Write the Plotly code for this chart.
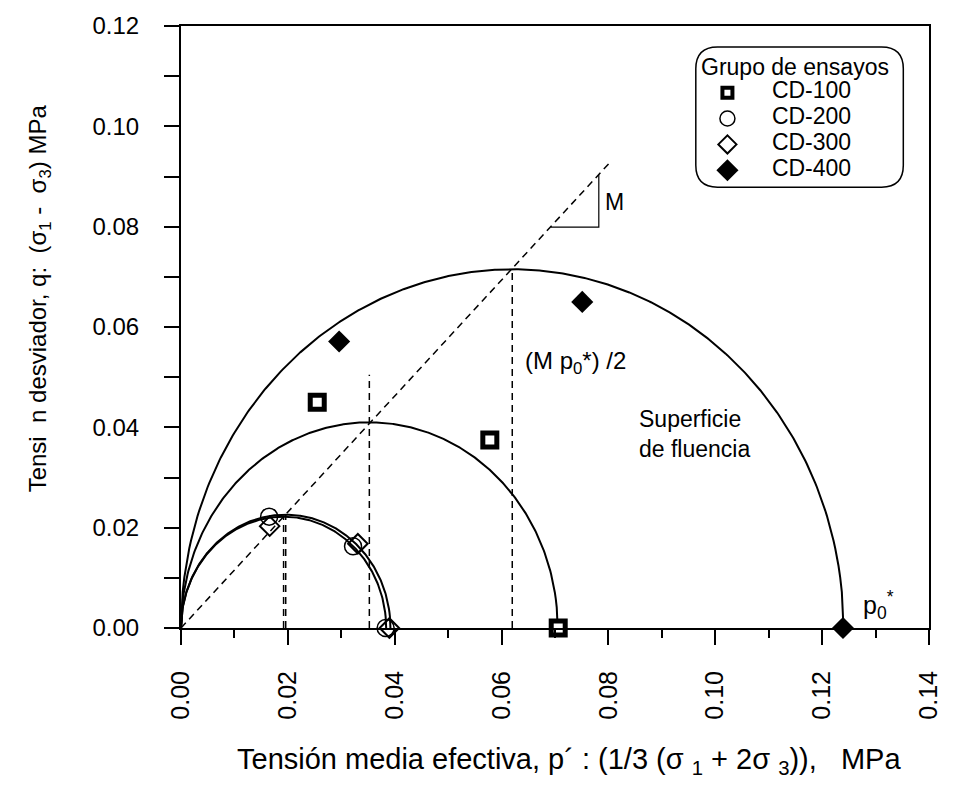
import numpy as np
import plotly.graph_objects as go

# ---------------- data ----------------
series_names = ["CD-100", "CD-200", "CD-300", "CD-400"]

cd100_p = [0.0255, 0.0578, 0.0706]
cd100_q = [0.0450, 0.0375, 0.0]
cd200_p = [0.0165, 0.0322, 0.0383]
cd200_q = [0.0222, 0.0163, 0.0]
cd300_p = [0.0166, 0.0331, 0.0390]
cd300_q = [0.0203, 0.0168, 0.0]
cd400_p = [0.0296, 0.0751, 0.1239]
cd400_q = [0.0571, 0.0650, 0.0]

# yield surfaces (ellipses from 0 to p0*, peak q at p0*/2)
yield_p0 = [0.0705, 0.0384, 0.0392, 0.1240]
yield_qmax = [0.0410, 0.0222, 0.0226, 0.0715]
# height of the dashed vertical at p0*/2
yield_dash_top = [0.0505, 0.0222, 0.0226, 0.0715]

# critical state line q = M p
csl_p = [0.0, 0.0801]
csl_q = [0.0, 0.0926]
# slope triangle
tri_p = [0.0692, 0.0782, 0.0782]
tri_q = [0.0799, 0.0799, 0.0904]

x_ticks = [0.00, 0.02, 0.04, 0.06, 0.08, 0.10, 0.12, 0.14]
y_ticks = [0.00, 0.02, 0.04, 0.06, 0.08, 0.10, 0.12]

FONT = "Liberation Sans, Arial, sans-serif"
fig = go.Figure()

# yield surfaces
for p0, qm in zip(yield_p0, yield_qmax):
    p = np.linspace(0, p0, 400)
    q = qm * np.sqrt(np.clip(1 - ((p - p0 / 2) / (p0 / 2)) ** 2, 0, None))
    fig.add_trace(go.Scatter(x=p, y=q, mode="lines", line=dict(color="black", width=2),
                             showlegend=False, hoverinfo="skip", cliponaxis=False))

# dashed verticals
for p0, top in zip(yield_p0, yield_dash_top):
    fig.add_trace(go.Scatter(x=[p0 / 2, p0 / 2], y=[0, top], mode="lines",
                             line=dict(color="black", width=1.5, dash="7px,5px"),
                             showlegend=False, hoverinfo="skip"))

# CSL
fig.add_trace(go.Scatter(x=csl_p, y=csl_q, mode="lines",
                         line=dict(color="black", width=1.5, dash="7px,5px"),
                         showlegend=False, hoverinfo="skip"))
fig.add_trace(go.Scatter(x=tri_p, y=tri_q, mode="lines",
                         line=dict(color="black", width=1.2),
                         showlegend=False, hoverinfo="skip"))

styles = {
    "CD-100": dict(symbol="square", size=14, color="white", line=dict(color="black", width=5)),
    "CD-200": dict(symbol="circle-open", size=17, color="black", line=dict(color="black", width=1.5)),
    "CD-300": dict(symbol="diamond-open", size=15, color="black", line=dict(color="black", width=2)),
    "CD-400": dict(symbol="diamond", size=17, color="black", line=dict(color="black", width=0)),
}
legend_symbols = ["square", "circle-open", "diamond-open", "diamond"]
legend_sizes = [10, 15, 14, 17]
legend_fill = ["white", "black", "black", "black"]
legend_lw = [4, 1.5, 2, 0]

data = {
    "CD-100": (cd100_p, cd100_q),
    "CD-200": (cd200_p, cd200_q),
    "CD-300": (cd300_p, cd300_q),
    "CD-400": (cd400_p, cd400_q),
}
for name in series_names:
    px_, qy_ = data[name]
    fig.add_trace(go.Scatter(x=px_, y=qy_, mode="markers", marker=styles[name], name=name,
                             showlegend=False, cliponaxis=False))

# manual legend on an inset axis (row index -> vertical position)
rows = list(range(len(series_names)))
fig.add_trace(go.Scatter(
    x=[0] * len(rows), y=rows, mode="markers", xaxis="x2", yaxis="y2",
    marker=dict(symbol=legend_symbols, size=legend_sizes, color=legend_fill, opacity=1,
                line=dict(color="black", width=legend_lw)),
    showlegend=False, hoverinfo="skip", cliponaxis=False))
fig.add_trace(go.Scatter(
    x=[1] * len(rows), y=rows, mode="text", text=series_names, textposition="middle right",
    textfont=dict(family=FONT, size=23, color="black"), xaxis="x2", yaxis="y2",
    showlegend=False, hoverinfo="skip", cliponaxis=False))

L, R, T, B = 181, 16, 23, 171
W, H = 954, 799
pw, ph = W - L - R, H - T - B

def px2x(px):
    return (px - L) / pw

def py2y(py):
    return (H - B - py) / ph

# legend box geometry (pixels)
bx0, bx1, by0, by1 = 702, 912, 44, 185
leg_dom_x = [px2x(bx0), px2x(bx1)]
leg_dom_y = [py2y(by1), py2y(by0)]
sx = 45.0  # px per unit
x2_lo = -(734 - bx0) / sx
x2_hi = x2_lo + (bx1 - bx0) / sx
sy = 26.0
y2_top = -(90 - by0) / sy
y2_bot = y2_top + (by1 - by0) / sy

# rounded box
r = 22
X0, X1 = px2x(bx0), px2x(bx1)
Y0, Y1 = py2y(by0), py2y(by1)
rx, ry = r / pw, r / ph
path = (f"M {X0+rx},{Y0} L {X1-rx},{Y0} Q {X1},{Y0} {X1},{Y0-ry} "
        f"L {X1},{Y1+ry} Q {X1},{Y1} {X1-rx},{Y1} L {X0+rx},{Y1} "
        f"Q {X0},{Y1} {X0},{Y1+ry} L {X0},{Y0-ry} Q {X0},{Y0} {X0+rx},{Y0} Z")

fig.update_layout(
    width=W, height=H,
    margin=dict(l=L, r=R, t=T, b=B),
    paper_bgcolor="white", plot_bgcolor="rgba(0,0,0,0)",
    font=dict(family=FONT, size=24, color="black"),
    showlegend=False,
    xaxis=dict(domain=[0, 1], range=[0, 0.14], tickvals=x_ticks,
               ticktext=[f"{v:.2f}" for v in x_ticks],
               tickangle=-90, ticks="outside", ticklen=15, tickwidth=1.5, tickcolor="black",
               showline=True, linecolor="black", linewidth=2, mirror=True, showgrid=False,
               zeroline=False, tickfont=dict(size=25), ticklabelstandoff=16,
               minor=dict(dtick=0.01, tick0=0, ticks="outside", ticklen=8, tickwidth=1.5,
                          tickcolor="black", showgrid=False)),
    yaxis=dict(domain=[0, 1], range=[0, 0.12], tickvals=y_ticks,
               ticktext=[f"{v:.2f}" for v in y_ticks],
               ticks="outside", ticklen=15, tickwidth=1.5, tickcolor="black",
               showline=True, linecolor="black", linewidth=2, mirror=True, showgrid=False,
               zeroline=False, tickfont=dict(size=24), ticklabelstandoff=20,
               minor=dict(dtick=0.01, tick0=0, ticks="outside", ticklen=15, tickwidth=1.5,
                          tickcolor="black", showgrid=False)),
    xaxis2=dict(domain=leg_dom_x, range=[x2_lo, x2_hi], anchor="y2",
                visible=False, fixedrange=True),
    yaxis2=dict(domain=leg_dom_y, range=[y2_bot, y2_top], anchor="x2",
                visible=False, fixedrange=True),
    shapes=[dict(type="path", path=path, xref="paper", yref="paper",
                 line=dict(color="black", width=1.5), fillcolor="rgba(0,0,0,0)", layer="above")],
)

annos = [
    dict(x=x2_lo + 3 / sx, y=-1, xref="x2", yref="y2", text="Grupo de ensayos", showarrow=False,
         xanchor="left", yanchor="middle", font=dict(size=23)),
    dict(x=0.0640, y=0.0530, text="(M p<sub>0</sub>*) /2", showarrow=False,
         xanchor="left", yanchor="middle", font=dict(size=24)),
    dict(x=0.0853, y=0.0387, text="Superficie<br>de fluencia", showarrow=False,
         xanchor="left", yanchor="middle", align="left", font=dict(size=23)),
    dict(x=0.0790, y=0.0850, text="M", showarrow=False,
         xanchor="left", yanchor="middle", font=dict(size=23)),
    dict(x=0.1272, y=0.0045, text="p<sub>0</sub><sup>*</sup>", showarrow=False,
         xanchor="left", yanchor="middle", font=dict(size=25)),
    dict(x=px2x(38), y=py2y(297), xref="paper", yref="paper", textangle=-90,
         text="Tensi\u00a0\u00a0n desviador, q:\u00a0\u00a0(σ<sub>1</sub>\u00a0-\u00a0\u00a0σ<sub>3</sub>) MPa",
         showarrow=False, xanchor="center", yanchor="middle", font=dict(size=24)),
    dict(x=px2x(574), y=py2y(762), xref="paper", yref="paper",
         text="Tensión media efectiva, p´ : (1/3 (σ <sub>1</sub> + 2σ <sub>3</sub>)),\u00a0\u00a0\u00a0MPa",
         showarrow=False, xanchor="center", yanchor="middle",
         font=dict(size=29, family=FONT)),
]
fig.update_layout(annotations=annos)

fig.write_html("out.html")
